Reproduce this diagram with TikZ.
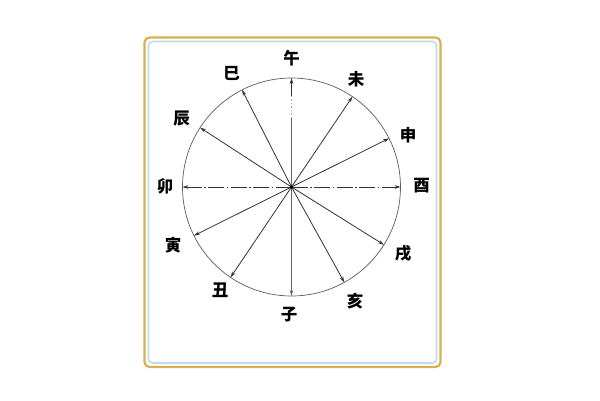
\documentclass[tikz,border=0pt]{standalone}
\usepackage{fontspec}
\newfontfamily\cjk{Noto Sans CJK SC}
\usetikzlibrary{arrows.meta,calc}
\definecolor{goldframe}{HTML}{D8B04E}
\definecolor{blueframe}{HTML}{BCDDEE}
\definecolor{inkline}{HTML}{333333}
\tikzset{
  lbl/.style={font=\cjk\bfseries\fontsize{16.5pt}{16.5pt}\selectfont, inner sep=0pt},
  spoke/.style={draw=inkline, line width=0.8pt, -{Stealth[length=6pt,width=3.6pt]}},
  chain/.style={spoke, dash pattern=on 16pt off 2.5pt on 1.5pt off 2.5pt},
  plain/.style={spoke, draw=inkline!75},
}
\begin{document}
\begin{tikzpicture}[x=1pt,y=-1pt]
\useasboundingbox (0,0) rectangle (600,400);
\fill[white] (0,0) rectangle (600,400);
\draw[goldframe, line width=2.2pt, rounded corners=5pt] (144.5,37.5) rectangle (440.5,367);
\draw[blueframe, line width=1.6pt, rounded corners=4pt] (148.5,41.5) rectangle (436.5,363);
\coordinate (c) at (291.5,187);
\draw[inkline!80, line width=0.7pt] (c) circle[radius=109pt];
% end points on the circle (angles measured counter-clockwise, y flipped)
\foreach \n/\a in {p0/0,p26/26.5,p55/56,p90/90,p117/117,p147/147,p180/180,p206/206.5,p236/236,p270/270,p299/299,p328/328}{
  \coordinate (\n) at ($(c)+({109*cos(\a)},{-109*sin(\a)})$);
}
\coordinate (u1) at ($(c)+(0,-69)$);
\coordinate (u2) at ($(c)+(0,-91)$);
\draw[chain] (c) -- (p0);
\draw[chain] (c) -- (p180);
\draw[inkline!75, line width=0.8pt] (c) -- (u1);
\draw[inkline!40, line width=0.8pt, dash pattern=on 1.5pt off 2pt] (u1) -- (u2);
\draw[spoke] (u2) -- (p90);
\draw[plain] (c) -- (p270);
\foreach \n in {p26,p55,p117,p147,p206,p236,p299,p328}{
  \draw[spoke] (c) -- (\n);
}
\fill[black] (c) circle (1.6pt);
\node[lbl] (wu)   at (291.5,58)  {午};
\node[lbl] (wei)  at (356,79)    {未};
\node[lbl] (shen) at (408,135)   {申};
\node[lbl] (you)  at (421.5,186) {酉};
\node[lbl] (xu)   at (403,253)   {戌};
\node[lbl] (hai)  at (355,301.5) {亥};
\node[lbl] (zi)   at (289,315)   {子};
\node[lbl] (chou) at (220,290)   {丑};
\node[lbl] (yin)  at (173,245)   {寅};
\node[lbl] (mao)  at (165,186.5) {卯};
\node[lbl] (chen) at (181.5,119) {辰};
\node[lbl] (si)   at (231.5,73)  {巳};
\end{tikzpicture}
\end{document}
